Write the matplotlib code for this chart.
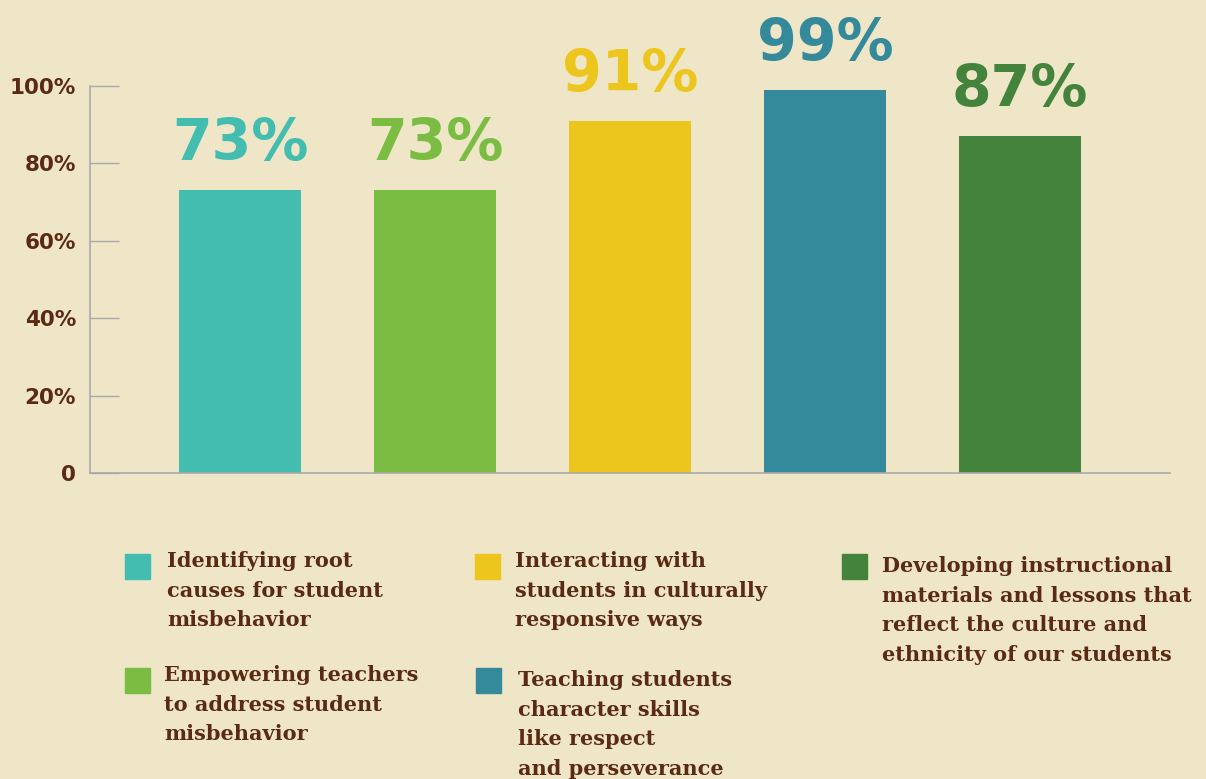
import numpy as np
import matplotlib.pyplot as plt
from matplotlib.patches import Rectangle

# data
categories = ['Identifying root\ncauses for student\nmisbehavior',
              'Empowering teachers\nto address student\nmisbehavior',
              'Interacting with\nstudents in culturally\nresponsive ways',
              'Teaching students\ncharacter skills\nlike respect\nand perseverance',
              'Developing instructional\nmaterials and lessons that\nreflect the culture and\nethnicity of our students']
values = [73, 73, 91, 99, 87]
colors = ['#42BDB0', '#7BBC43', '#ECC51D', '#348A9A', '#43833C']
yticks = [0, 20, 40, 60, 80, 100]
ytick_labels = ['0', '20%', '40%', '60%', '80%', '100%']

bg = '#EEE6C7'
brown = '#5A2A14'
grid_gray = '#A9A9A9'

W, H = 1206, 779
fig = plt.figure(figsize=(W / 100, H / 100), dpi=100, facecolor=bg)
ax = fig.add_axes([90 / W, 1 - 473 / H, 1080 / W, 387 / H])
ax.set_facecolor(bg)

x = np.arange(len(values))
bars = ax.bar(x, values, width=0.63, color=colors, zorder=2)
ax.set_xlim(-0.769, 4.769)
ax.set_ylim(0, 100)

# value labels above bars
for xi, v, c in zip(x, values, colors):
    ax.annotate(f'{v}%', (xi, v), xytext=(0, 13), textcoords='offset points',
                ha='center', va='bottom', fontsize=41, fontweight='heavy',
                color=c, annotation_clip=False)

for s in ['top', 'right']:
    ax.spines[s].set_visible(False)
for s in ['left', 'bottom']:
    ax.spines[s].set_color(grid_gray)
    ax.spines[s].set_linewidth(1.2)

ax.set_xticks([])
ax.set_yticks(yticks)
ax.set_yticklabels(ytick_labels)
ax.tick_params(axis='y', direction='in', length=21, width=1, color=grid_gray,
               pad=10, labelsize=15.5, labelcolor=brown)
for lbl in ax.get_yticklabels():
    lbl.set_fontweight('bold')

# legend laid out by hand (square left/top, text left/top in pixels)
legend_pos = [(125, 554, 167, 551),
              (125, 668, 164, 665),
              (475, 554, 515, 551),
              (476, 668, 518, 670),
              (842, 554, 882, 556)]
for (sx, sy, tx, ty), lab, c in zip(legend_pos, categories, colors):
    fig.patches.append(Rectangle((sx / W, 1 - (sy + 25) / H), 25 / W, 25 / H,
                                 transform=fig.transFigure, color=c))
    fig.text(tx / W, 1 - ty / H, lab, ha='left', va='top', fontsize=15,
             fontweight='bold', family='DejaVu Serif', color=brown,
             linespacing=1.6)

fig.savefig('out.png', dpi=100, facecolor=bg)
